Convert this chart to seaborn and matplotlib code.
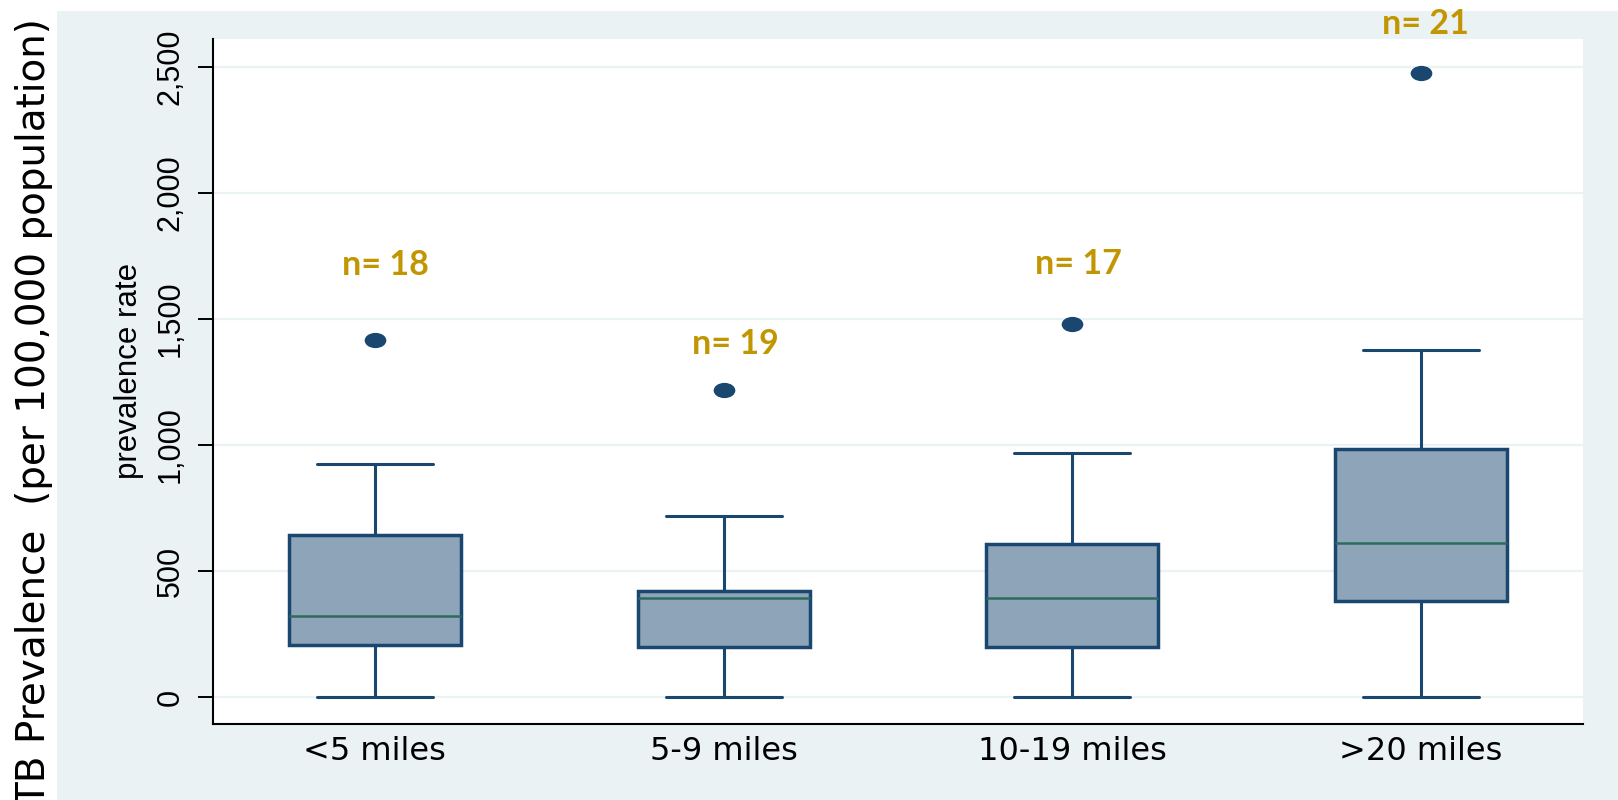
import numpy as np
import matplotlib
matplotlib.use("Agg")
import matplotlib.pyplot as plt
from matplotlib.path import Path
from matplotlib.transforms import Affine2D
from matplotlib.patches import Rectangle
import seaborn as sns

# Summary statistics of TB prevalence by distance group
categories = ["<5 miles", "5-9 miles", "10-19 miles", ">20 miles"]
counts = [18, 19, 17, 21]
lower_whisker = [0, 0, 0, 0]
q1 = [205, 198, 198, 383]
median = [320, 392, 392, 612]
q3 = [643, 420, 608, 985]
upper_whisker = [925, 718, 968, 1378]
outlier = [1418, 1217, 1480, 2475]
y_ticks = [0, 500, 1000, 1500, 2000, 2500]

NAVY = "#1A476F"
BOX_FILL = "#8EA4B8"
MEDIAN = "#2E6B5E"
BG = "#EAF2F3"
GOLD = "#C29600"
NARROW = ["Liberation Sans Narrow", "Liberation Sans", "DejaVu Sans"]

sns.set_theme(style="white")
plt.rcParams["font.family"] = ["Liberation Sans", "DejaVu Sans"]

W, H = 1618, 800
fig = plt.figure(figsize=(W / 100, H / 100), dpi=100, facecolor="white")
fig.patches.append(Rectangle((57 / W, 0), 1, (H - 11) / H, transform=fig.transFigure,
                             facecolor=BG, edgecolor="none", zorder=-10))

ax = fig.add_axes([213 / W, 76 / H, 1370 / W, 685 / H])
ax.set_facecolor("white")
ax.set_zorder(1)

stats = [dict(label=c, whislo=lo, q1=a, med=m, q3=b, whishi=hi, fliers=[])
         for c, lo, a, m, b, hi in zip(categories, lower_whisker, q1, median, q3, upper_whisker)]
positions = np.arange(len(categories))
ax.bxp(stats, positions=positions, widths=0.493, capwidths=0.332, patch_artist=True,
       showfliers=False, manage_ticks=False, zorder=3,
       boxprops=dict(facecolor=BOX_FILL, edgecolor=NAVY, linewidth=2.5),
       whiskerprops=dict(color=NAVY, linewidth=2.2),
       capprops=dict(color=NAVY, linewidth=2.2),
       medianprops=dict(color=MEDIAN, linewidth=1.8))

# outside values drawn as flattened dots
ellipse = Path(Affine2D().scale(1.42, 1.0).transform(Path.unit_circle().vertices),
               Path.unit_circle().codes)
sns.scatterplot(x=positions, y=outlier, marker=ellipse, s=15.6 ** 2, color=NAVY,
                edgecolor=NAVY, linewidth=0, ax=ax, zorder=4, legend=False)

# group sizes
label_base = [1675, 1362, 1679, 2632]
label_shift = [0.03, 0.034, 0.017, 0.011]
for i, n in enumerate(counts):
    ax.text(positions[i] + label_shift[i], label_base[i], f"n= {n}", ha="center", va="baseline",
            color=GOLD, fontsize=24.5, fontweight="bold", family=["Lato", "DejaVu Sans"],
            clip_on=False, zorder=5)

ax.set_xlim(-0.464, 3.464)
ax.set_ylim(-107, 2611)

ax.set_yticks(y_ticks)
ax.set_yticklabels([f"{v:,}" for v in y_ticks], rotation=90, va="center",
                   fontsize=22, family=NARROW)
ax.set_xticks(positions)
ax.set_xticklabels(categories, fontsize=23, family="DejaVu Sans")
ax.yaxis.grid(True, color=BG, linewidth=1.6)
ax.xaxis.grid(False)
ax.set_axisbelow(True)

ax.tick_params(axis="y", direction="out", length=10.5, width=1.4, color="black",
               pad=9, left=True, labelcolor="black")
ax.tick_params(axis="x", length=0, pad=9, labelcolor="black")

for side in ["top", "right"]:
    ax.spines[side].set_visible(False)
for side in ["left", "bottom"]:
    ax.spines[side].set_color("black")
    ax.spines[side].set_linewidth(1.5)

ax.set_xlabel("")
ax.set_ylabel("prevalence rate", fontsize=22.5, family=NARROW, color="black")
ax.yaxis.set_label_coords(-0.05, 0.515)

fig.text(45 / W, 0.485, "TB Prevalence  (per 100,000 population)", rotation=90,
         rotation_mode="anchor", ha="center", va="baseline", fontsize=28,
         family="DejaVu Sans", color="black")

fig.savefig("out.png", dpi=100, facecolor="white")
